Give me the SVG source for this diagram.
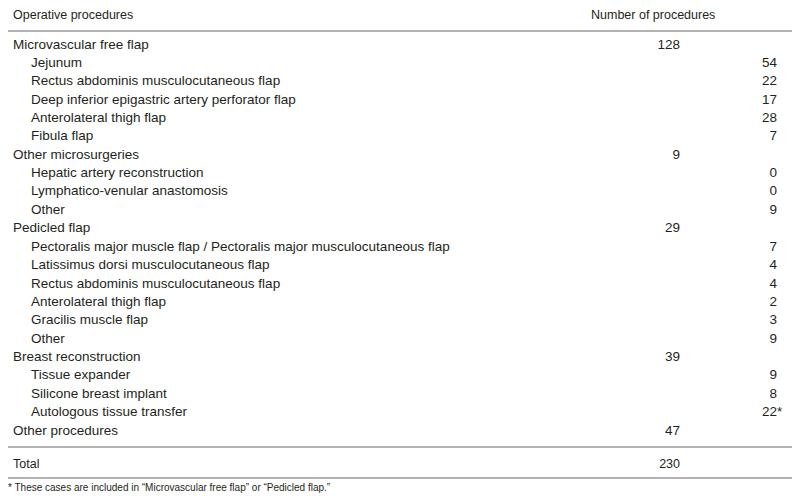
<svg xmlns="http://www.w3.org/2000/svg" width="800" height="496" viewBox="0 0 800 496">
<style>
text{font-family:"Liberation Sans",Arial,sans-serif;font-size:12.5px;fill:#231f20}
#rows text{font-size:13.5px}
.m,.r{text-anchor:end}
.f{font-size:10px}
line{stroke:#999;stroke-width:1.3}
</style>
<rect width="800" height="496" fill="#fff"/>
<g id="rules">
<line x1="8" y1="31" x2="792" y2="31"/>
<line x1="8" y1="447" x2="792" y2="447"/>
<line x1="8" y1="478" x2="792" y2="478"/>
</g>
<g id="header">
<text x="13" y="19">Operative procedures</text>
<text x="591" y="19">Number of procedures</text>
</g>
<g id="rows">
<text x="13" y="49">Microvascular free flap</text><text class="m" x="680" y="49">128</text>
<text x="31" y="67">Jejunum</text><text class="r" x="777" y="67">54</text>
<text x="31" y="85">Rectus abdominis musculocutaneous flap</text><text class="r" x="777" y="85">22</text>
<text x="31" y="104">Deep inferior epigastric artery perforator flap</text><text class="r" x="777" y="104">17</text>
<text x="31" y="122">Anterolateral thigh flap</text><text class="r" x="777" y="122">28</text>
<text x="31" y="140">Fibula flap</text><text class="r" x="777" y="140">7</text>
<text x="13" y="159">Other microsurgeries</text><text class="m" x="680" y="159">9</text>
<text x="31" y="177">Hepatic artery reconstruction</text><text class="r" x="777" y="177">0</text>
<text x="31" y="195">Lymphatico-venular anastomosis</text><text class="r" x="777" y="195">0</text>
<text x="31" y="214">Other</text><text class="r" x="777" y="214">9</text>
<text x="13" y="232">Pedicled flap</text><text class="m" x="680" y="232">29</text>
<text x="31" y="251">Pectoralis major muscle flap / Pectoralis major musculocutaneous flap</text><text class="r" x="777" y="251">7</text>
<text x="31" y="269">Latissimus dorsi musculocutaneous flap</text><text class="r" x="777" y="269">4</text>
<text x="31" y="288">Rectus abdominis musculocutaneous flap</text><text class="r" x="777" y="288">4</text>
<text x="31" y="306">Anterolateral thigh flap</text><text class="r" x="777" y="306">2</text>
<text x="31" y="324">Gracilis muscle flap</text><text class="r" x="777" y="324">3</text>
<text x="31" y="343">Other</text><text class="r" x="777" y="343">9</text>
<text x="13" y="361">Breast reconstruction</text><text class="m" x="680" y="361">39</text>
<text x="31" y="379">Tissue expander</text><text class="r" x="777" y="379">9</text>
<text x="31" y="398">Silicone breast implant</text><text class="r" x="777" y="398">8</text>
<text x="31" y="416">Autologous tissue transfer</text><text x="762" y="416">22*</text>
<text x="13" y="435">Other procedures</text><text class="m" x="680" y="435">47</text>
</g>
<g id="total">
<text x="13" y="468">Total</text><text class="m" x="680" y="468">230</text>
</g>
<g id="footnote">
<text class="f" x="8" y="491">* These cases are included in “Microvascular free flap” or “Pedicled flap.”</text>
</g>
</svg>
